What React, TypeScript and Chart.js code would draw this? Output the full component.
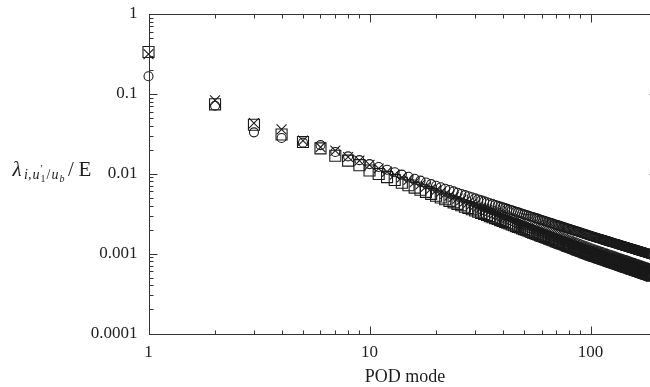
import React, { useEffect, useRef } from 'react';
import { Chart, registerables } from 'chart.js';

Chart.register(...registerables);

// ---- data (modes 1..190) ----
const circleValues = [
  0.166, 0.071, 0.033, 0.028, 0.0245, 0.0228, 0.0187, 0.0165, 0.0148, 0.0132,
  0.01213, 0.01121, 0.01044, 0.00976, 0.00917, 0.00866, 0.0082, 0.00778, 0.00742, 0.00708,
  0.00678, 0.0065, 0.00625, 0.00601, 0.00579, 0.00559, 0.0054, 0.00523, 0.00507, 0.00492,
  0.00477, 0.00464, 0.00451, 0.00439, 0.00428, 0.00417, 0.00407, 0.00397, 0.00388, 0.00379,
  0.00371, 0.00363, 0.00355, 0.00348, 0.00341, 0.00335, 0.00328, 0.00322, 0.00316, 0.0031,
  0.00305, 0.003, 0.00294, 0.0029, 0.00285, 0.0028, 0.00276, 0.00272, 0.00267, 0.00263,
  0.0026, 0.00256, 0.00252, 0.00249, 0.00245, 0.00242, 0.00239, 0.00235, 0.00232, 0.00229,
  0.00226, 0.00224, 0.00221, 0.00218, 0.00215, 0.00213, 0.0021, 0.00208, 0.00206, 0.00203,
  0.00201, 0.00199, 0.00197, 0.00195, 0.00193, 0.00191, 0.00189, 0.00187, 0.00185, 0.00183,
  0.00181, 0.00179, 0.00178, 0.00176, 0.00174, 0.00173, 0.00171, 0.00169, 0.00168, 0.00166,
  0.001649, 0.001635, 0.001622, 0.001609, 0.001596, 0.001583, 0.00157, 0.001558, 0.001546, 0.001534,
  0.001522, 0.001511, 0.001499, 0.001488, 0.001477, 0.001466, 0.001455, 0.001445, 0.001435, 0.001425,
  0.001415, 0.001405, 0.001395, 0.001386, 0.001376, 0.001367, 0.001358, 0.001349, 0.00134, 0.001331,
  0.001322, 0.001314, 0.001305, 0.001297, 0.001289, 0.001281, 0.001273, 0.001265, 0.001257, 0.00125,
  0.001242, 0.001235, 0.001227, 0.00122, 0.001213, 0.001206, 0.001199, 0.001192, 0.001185, 0.001178,
  0.001172, 0.001166, 0.001159, 0.001152, 0.001146, 0.00114, 0.001134, 0.001127, 0.001121, 0.001116,
  0.00111, 0.001104, 0.001098, 0.001092, 0.001087, 0.001081, 0.001076, 0.00107, 0.001065, 0.00106,
  0.001054, 0.001049, 0.001044, 0.001039, 0.001034, 0.001029, 0.001024, 0.001019, 0.001014, 0.001009,
  0.001005, 0.001, 0.000995, 0.000991, 0.000986, 0.000982, 0.000977, 0.000973, 0.000968, 0.000964,
];

const crossValues = [
  0.315, 0.083, 0.043, 0.036, 0.026, 0.0215, 0.0195, 0.0162, 0.0146, 0.0129,
  0.01164, 0.01062, 0.00976, 0.00902, 0.00838, 0.00783, 0.00734, 0.00691, 0.00652, 0.00618,
  0.00587, 0.00558, 0.00533, 0.00509, 0.00488, 0.00468, 0.00449, 0.00433, 0.00417, 0.00402,
  0.00388, 0.00375, 0.00363, 0.00352, 0.00342, 0.00331, 0.00322, 0.00313, 0.00304, 0.00296,
  0.00289, 0.00281, 0.00275, 0.00268, 0.00262, 0.00256, 0.0025, 0.00244, 0.00239, 0.00234,
  0.00229, 0.00224, 0.0022, 0.00216, 0.00211, 0.00207, 0.00204, 0.002, 0.00196, 0.00193,
  0.00189, 0.00186, 0.00183, 0.0018, 0.00177, 0.00174, 0.00172, 0.00169, 0.00166, 0.00164,
  0.00161, 0.00159, 0.00157, 0.00154, 0.00152, 0.0015, 0.00148, 0.00146, 0.00144, 0.00142,
  0.0014, 0.00138, 0.00137, 0.00135, 0.00133, 0.00132, 0.0013, 0.00128, 0.00127, 0.00125,
  0.00124, 0.00123, 0.00121, 0.0012, 0.001185, 0.00117, 0.001159, 0.001146, 0.001134, 0.001122,
  0.001112, 0.001101, 0.001091, 0.001082, 0.001072, 0.001062, 0.001053, 0.001043, 0.001035, 0.001026,
  0.001017, 0.001008, 0.000999, 0.000991, 0.000983, 0.000975, 0.000967, 0.000959, 0.000952, 0.000944,
  0.000936, 0.000929, 0.000923, 0.000916, 0.000909, 0.000901, 0.000894, 0.000888, 0.000881, 0.000876,
  0.000869, 0.000862, 0.000856, 0.00085, 0.000843, 0.000838, 0.000832, 0.000826, 0.000822, 0.000816,
  0.00081, 0.000804, 0.000799, 0.000794, 0.000788, 0.000784, 0.000778, 0.000774, 0.000769, 0.000763,
  0.000759, 0.000754, 0.00075, 0.000745, 0.00074, 0.000736, 0.000731, 0.000727, 0.000723, 0.000719,
  0.000714, 0.000709, 0.000706, 0.000701, 0.000698, 0.000693, 0.00069, 0.000685, 0.000682, 0.000678,
  0.000674, 0.00067, 0.000667, 0.000664, 0.00066, 0.000657, 0.000652, 0.000649, 0.000645, 0.000642,
  0.000638, 0.000636, 0.000633, 0.000629, 0.000626, 0.000622, 0.00062, 0.000617, 0.000613, 0.00061,
];

const squareValues = [
  0.334, 0.074, 0.041, 0.031, 0.025, 0.0208, 0.0168, 0.0146, 0.0128, 0.011,
  0.00994, 0.00907, 0.00835, 0.00772, 0.00718, 0.00671, 0.0063, 0.00593, 0.0056, 0.00531,
  0.00504, 0.0048, 0.00458, 0.00438, 0.0042, 0.00403, 0.00387, 0.00373, 0.00359, 0.00347,
  0.00335, 0.00324, 0.00314, 0.00304, 0.00295, 0.00286, 0.00278, 0.00271, 0.00263, 0.00256,
  0.0025, 0.00244, 0.00238, 0.00232, 0.00227, 0.00221, 0.00216, 0.00212, 0.00207, 0.00203,
  0.00199, 0.00195, 0.00191, 0.00187, 0.00183, 0.0018, 0.00177, 0.00174, 0.0017, 0.00167,
  0.00165, 0.00162, 0.00159, 0.00157, 0.00154, 0.00152, 0.00149, 0.00147, 0.00145, 0.00142,
  0.0014, 0.00138, 0.00136, 0.00134, 0.00133, 0.00131, 0.00129, 0.00127, 0.00125, 0.00124,
  0.00122, 0.00121, 0.00119, 0.00118, 0.00116, 0.00115, 0.00113, 0.00112, 0.00111, 0.00109,
  0.00108, 0.00107, 0.00106, 0.001045, 0.001034, 0.001022, 0.001011, 0.001, 0.00099, 0.00098,
  0.00097, 0.000961, 0.000952, 0.000944, 0.000935, 0.000927, 0.000919, 0.00091, 0.000903, 0.000895,
  0.000887, 0.00088, 0.000872, 0.000865, 0.000858, 0.000851, 0.000844, 0.000837, 0.000831, 0.000824,
  0.000817, 0.000811, 0.000805, 0.000799, 0.000793, 0.000786, 0.00078, 0.000775, 0.000769, 0.000764,
  0.000758, 0.000752, 0.000747, 0.000742, 0.000736, 0.000731, 0.000726, 0.000721, 0.000717, 0.000712,
  0.000707, 0.000702, 0.000697, 0.000693, 0.000688, 0.000684, 0.000679, 0.000675, 0.000671, 0.000666,
  0.000662, 0.000658, 0.000654, 0.00065, 0.000646, 0.000642, 0.000638, 0.000634, 0.000631, 0.000627,
  0.000623, 0.000619, 0.000616, 0.000612, 0.000609, 0.000605, 0.000602, 0.000598, 0.000595, 0.000592,
  0.000588, 0.000585, 0.000582, 0.000579, 0.000576, 0.000573, 0.000569, 0.000566, 0.000563, 0.00056,
  0.000557, 0.000555, 0.000552, 0.000549, 0.000546, 0.000543, 0.000541, 0.000538, 0.000535, 0.000532,
];

const modes = circleValues.map((_, i) => i + 1);

const xTickLabels = ['1', '10', '100'];
const yTickLabels = ['0.0001', '0.001', '0.01', '0.1', '1'];
const xMin = 1;
const xMax = 200;
const yMin = 0.0001;
const yMax = 1;
const xTitle = 'POD mode';

const FAMILY = "'Liberation Serif', 'DejaVu Serif', serif";
const INK = '#1e1e1e';

function isPow10(v: number) {
  const l = Math.log10(v);
  return Math.abs(l - Math.round(l)) < 1e-6;
}

function logTicks(min: number, max: number) {
  const out: number[] = [];
  for (let e = Math.floor(Math.log10(min)); e <= Math.ceil(Math.log10(max)); e++) {
    for (let d = 1; d <= 9; d++) {
      const v = parseFloat((d * Math.pow(10, e)).toPrecision(6));
      if (v >= min * 0.9999 && v <= max * 1.0001) out.push(v);
    }
  }
  return out;
}

function labelFor(labels: string[], v: number) {
  const hit = labels.find((s) => Math.abs(Math.log10(parseFloat(s)) - Math.log10(v)) < 1e-6);
  return hit ?? '';
}

const framePlugin = {
  id: 'framePlugin',
  afterDraw(chart: any) {
    const { ctx, chartArea: a, scales } = chart;
    const xs = scales.x;
    const ys = scales.y;
    const L = Math.round(a.left) + 0.5;
    const R = Math.round(a.right) + 0.5;
    const T = Math.round(a.top) + 0.5;
    const B = Math.round(a.bottom) + 0.5;
    ctx.save();
    ctx.strokeStyle = '#333';
    ctx.lineWidth = 1;
    ctx.strokeRect(L, T, R - L, B - T);
    ctx.beginPath();
    for (const v of logTicks(xMin, xMax)) {
      const px = Math.round(xs.getPixelForValue(v)) + 0.5;
      const len = isPow10(v) ? 8 : 4;
      ctx.moveTo(px, B); ctx.lineTo(px, B - len);
      ctx.moveTo(px, T); ctx.lineTo(px, T + len);
    }
    for (const v of logTicks(yMin, yMax)) {
      const py = Math.round(ys.getPixelForValue(v)) + 0.5;
      const len = isPow10(v) ? 8 : 4;
      ctx.moveTo(L, py); ctx.lineTo(L + len, py);
      ctx.moveTo(R, py); ctx.lineTo(R - len, py);
    }
    ctx.stroke();

    // x-axis title
    ctx.fillStyle = INK;
    ctx.textBaseline = 'alphabetic';
    ctx.textAlign = 'center';
    ctx.font = `18px ${FAMILY}`;
    ctx.fillText(xTitle, 405, 382);

    // y-axis title: λ_{i,u'_1/u_b}/E (horizontal)
    ctx.textAlign = 'left';
    const base = 176;
    const put = (t: string, font: string, x: number, dy: number) => {
      ctx.font = `${font} ${FAMILY}`;
      ctx.fillText(t, x, base + dy);
    };
    put('λ', 'italic 21px', 12.5, 0);
    put('i,', 'italic 14px', 24, 3);
    put('u', 'italic 14px', 32.5, 3);
    put('′', '11px', 40.5, -4);
    put('1', '10px', 40.5, 6);
    put('/', '14px', 46.5, 3);
    put('u', 'italic 14px', 51.5, 3);
    put('b', 'italic 10px', 59.5, 6);
    put('/', '21px', 68, 0);
    put('E', '21px', 78.5, 0);
    ctx.restore();
  },
};

export default function App() {
  const ref = useRef<HTMLCanvasElement>(null);

  useEffect(() => {
    const markerColor = '#1a1a1a';
    const toPts = (vals: number[]) => vals.map((y, i) => ({ x: modes[i], y }));
    const chart = new Chart(ref.current as HTMLCanvasElement, {
      type: 'scatter',
      data: {
        datasets: [
          {
            label: 'circle',
            data: toPts(circleValues),
            pointStyle: 'circle',
            pointRadius: 4.5,
            pointBorderWidth: 1.1,
            pointBorderColor: markerColor,
            pointBackgroundColor: 'rgba(0,0,0,0)',
            clip: false,
          },
          {
            label: 'cross',
            data: toPts(crossValues),
            pointStyle: 'crossRot',
            pointRadius: 7,
            pointBorderWidth: 1.1,
            pointBorderColor: markerColor,
            pointBackgroundColor: 'rgba(0,0,0,0)',
            clip: false,
          },
          {
            label: 'square',
            data: toPts(squareValues),
            pointStyle: 'rect',
            pointRadius: 7.8,
            pointBorderWidth: 1.1,
            pointBorderColor: markerColor,
            pointBackgroundColor: 'rgba(0,0,0,0)',
            clip: false,
          },
        ],
      } as any,
      options: {
        responsive: false,
        animation: false,
        devicePixelRatio: 1,
        layout: { padding: { left: 0, right: 2, top: 14, bottom: 0 } },
        plugins: {
          legend: { display: false },
          tooltip: { enabled: false },
        },
        scales: {
          x: {
            type: 'logarithmic',
            min: xMin,
            max: xMax,
            grid: { display: false, drawTicks: false },
            border: { display: false },
            afterBuildTicks: (scale: any) => {
              scale.ticks = logTicks(xMin, xMax).map((v) => ({ value: v, major: isPow10(v) }));
            },
            afterFit: (scale: any) => {
              scale.height = 53.5;
              scale.paddingLeft = 0;
              scale.paddingRight = 0;
            },
            ticks: {
              autoSkip: false,
              maxRotation: 0,
              padding: 9,
              color: INK,
              font: { family: FAMILY, size: 17 },
              callback: (v: any) => labelFor(xTickLabels, Number(v)),
            },
          },
          y: {
            type: 'logarithmic',
            min: yMin,
            max: yMax,
            grid: { display: false, drawTicks: false },
            border: { display: false },
            afterBuildTicks: (scale: any) => {
              scale.ticks = logTicks(yMin, yMax).map((v) => ({ value: v, major: isPow10(v) }));
            },
            afterFit: (scale: any) => {
              scale.width = 148.5;
              scale.paddingTop = 0;
              scale.paddingBottom = 0;
            },
            ticks: {
              autoSkip: false,
              padding: 11,
              color: INK,
              font: { family: FAMILY, size: 17 },
              callback: (v: any) => labelFor(yTickLabels, Number(v)),
            },
          },
        },
      } as any,
      plugins: [framePlugin],
    });
    return () => chart.destroy();
  }, []);

  return (
    <div
      style={{
        position: 'fixed',
        left: 0,
        top: 0,
        width: 650,
        height: 387,
        overflow: 'hidden',
        background: '#fff',
      }}
    >
      <canvas ref={ref} width={666} height={387} style={{ display: 'block', width: 666, height: 387 }} />
    </div>
  );
}
